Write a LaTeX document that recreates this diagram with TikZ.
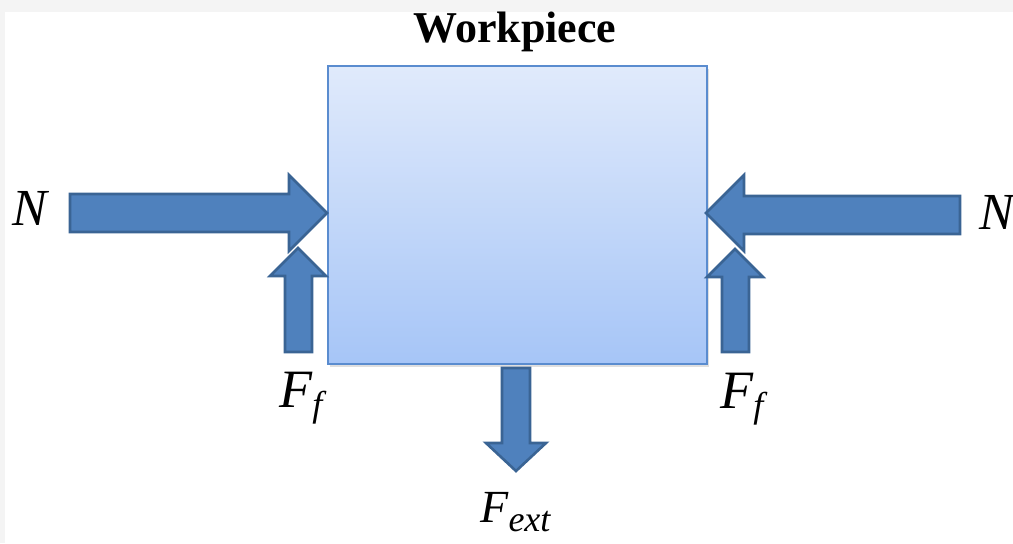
\documentclass[tikz,border=0pt]{standalone}
\usepackage{fontspec}
\setmainfont{Liberation Serif}
\usetikzlibrary{shadows}

\definecolor{pagegray}{HTML}{F4F4F4}
\definecolor{forcefill}{HTML}{4F81BD}
\definecolor{forceedge}{HTML}{3A6494}
\definecolor{boxedge}{HTML}{5A8CCF}
\definecolor{boxtop}{HTML}{E0EAFB}
\definecolor{boxbottom}{HTML}{A6C5F7}

\newcommand{\forcesub}[1]{\raisebox{-4.5pt}{\fontsize{18}{18}\selectfont #1}}

\begin{document}
\begin{tikzpicture}[
        x=0.5pt, y=-0.5pt, % one unit = one pixel of the reference
        workbox/.style={draw=boxedge, line width=1.2pt, top color=boxtop, bottom color=boxbottom,
            minimum width=189.5pt, minimum height=149pt, inner sep=0pt,
            drop shadow={shadow xshift=1pt, shadow yshift=-1.5pt, opacity=0.25}},
        force/.style={fill=forcefill, draw=forceedge, line width=1.3pt, line join=miter},
        forcelabel/.style={font=\fontsize{26}{30}\selectfont\itshape, inner sep=0pt},
        title/.style={font=\fontsize{22}{26}\selectfont\bfseries, inner sep=0pt}
    ]
        \useasboundingbox (0,0) rectangle (1013,543);
        \fill[pagegray] (0,0) rectangle (1013,12);
        \fill[pagegray] (0,0) rectangle (5,543);

        % Peça
        \node[workbox, anchor=north west] (work) at (327,65) {};
        \node[title, anchor=base] (worktitle) at (515,42) {Workpiece};

        % Forças normais
        \draw[force] (70,194) -- (289,194) -- (289,175) -- (327,213) -- (289,251) -- (289,232) -- (70,232) -- cycle;
        \draw[force] (960,196) -- (744,196) -- (744,175) -- (706,213) -- (744,251) -- (744,234) -- (960,234) -- cycle;

        % Atrito
        \draw[force] (285,352) -- (285,276) -- (270,276) -- (298,248) -- (326,276) -- (312,276) -- (312,352) -- cycle;
        \draw[force] (722,352) -- (722,277) -- (707,277) -- (735,249) -- (763,277) -- (749,277) -- (749,352) -- cycle;

        % Força externa
        \draw[force] (502,368) -- (530,368) -- (530,443) -- (546,443) -- (516,471) -- (486,443) -- (502,443) -- cycle;

        % Rótulos
        \node[forcelabel, anchor=base] (nleft) at (30,225) {N};
        \node[forcelabel, anchor=base west] (nright) at (979,229) {N};
        \node[forcelabel, anchor=base west, font=\fontsize{27}{30}\selectfont\itshape] (ffleft) at (279,407) {F\forcesub{f}};
        \node[forcelabel, anchor=base west, font=\fontsize{27}{30}\selectfont\itshape] (ffright) at (720,408) {F\forcesub{f}};
        \node[forcelabel, anchor=base west, font=\fontsize{23}{26}\selectfont\itshape] (fext) at (480,522) {F\forcesub{ext}};

    \end{tikzpicture}
\end{document}
